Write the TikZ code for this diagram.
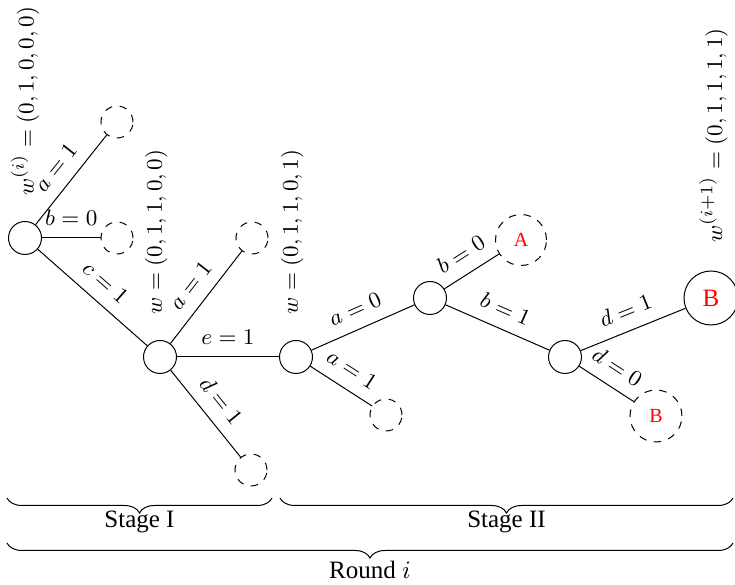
\documentclass[tikz,border=0pt]{standalone}
\usepackage[no-math]{fontspec}
\setmainfont{Liberation Serif}
\usetikzlibrary{decorations.pathreplacing}

\begin{document}
\begin{tikzpicture}[
        x=0.4pt, y=-0.4pt,
        vertex/.style={circle, draw, minimum size=13.2pt, inner sep=0pt},
        cut/.style={circle, draw, dashed, minimum size=12.8pt, inner sep=0pt},
        bigcut/.style={cut, minimum size=20.4pt, text=red, font=\footnotesize},
        cond/.style={above=1.5pt, sloped, font=\fontsize{9.3}{11}\selectfont},
        weight/.style={rotate=90, anchor=west, inner sep=0pt, font=\fontsize{9.3}{11}\selectfont},
        stagebrace/.style={decorate, decoration={brace, mirror, amplitude=6pt}}
        ]
        \useasboundingbox (0,0) rectangle (735,585);

        % nodes of the search in round i
        \node (root) [vertex] at (25,238) {};
        \node (cut1) [cut] at (117,122) {};
        \node (cut2) [cut] at (117,238) {};
        \node (mid) [vertex] at (160,357) {};
        \node (cut3) [cut] at (252,238) {};
        \node (cut4) [cut] at (251,470) {};
        \node (second) [vertex] at (296,357) {};
        \node (cut5) [cut] at (386,415) {};
        \node (branch) [vertex] at (430,298) {};
        \node (cutA) [bigcut] at (521,240) {A};
        \node (last) [vertex] at (565,357) {};
        \node (cutB) [bigcut, minimum size=20.8pt] at (656,416) {B};
        \node (final) [vertex, minimum size=21.6pt, text=red] at (711,298) {B};

        % weight vectors
        \node (wroot) [weight] at ([yshift=10pt]root.north) {$w^{(i)} = (0,1,0,0,0)$};
        \node (wmid) [weight] at ([xshift=-1.5pt, yshift=10pt]mid.north) {$w = (0,1,1,0,0)$};
        \node (wsecond) [weight] at ([xshift=-1.5pt, yshift=10pt]second.north) {$w = (0,1,1,0,1)$};
        \node (wfinal) [weight] at ([xshift=1pt, yshift=11pt]final.north) {$w^{(i+1)} = (0,1,1,1,1)$};

        % stage I
        \path
        (root)   edge node[cond] {$a=1$} (cut1)
        (root)   edge node[cond] {$b=0$} (cut2)
        (root)   edge node[cond] {$c=1$} (mid)
        (mid)    edge node[cond] {$a=1$} (cut3)
        (mid)    edge node[cond] {$e=1$} (second)
        (mid)    edge node[cond] {$d=1$} (cut4)
        ;

        % stage II
        \path
        (second) edge node[cond] {$a=0$} (branch)
        (second) edge node[cond] {$a=1$} (cut5)
        (branch) edge node[cond] {$b=0$} (cutA)
        (branch) edge node[cond] {$b=1$} (last)
        (last)   edge node[cond] {$d=1$} (final)
        (last)   edge node[cond] {$d=0$} (cutB)
        ;

        % braces
        \coordinate (oneleft) at (7,498);
        \coordinate (oneright) at (272,498);
        \coordinate (twoleft) at (280,498);
        \coordinate (tworight) at (733,498);
        \coordinate (roundleft) at (7,543);
        \coordinate (roundright) at (733,543);
        \draw[stagebrace] (oneleft) -- node[below=5pt, inner sep=0pt] (stageI) {Stage I} (oneright);
        \draw[stagebrace] (twoleft) -- node[below=5pt, inner sep=0pt] (stageII) {Stage II} (tworight);
        \draw[stagebrace] (roundleft) -- node[below=7pt, inner sep=0pt] (round) {Round $i$} (roundright);
    \end{tikzpicture}
\end{document}
